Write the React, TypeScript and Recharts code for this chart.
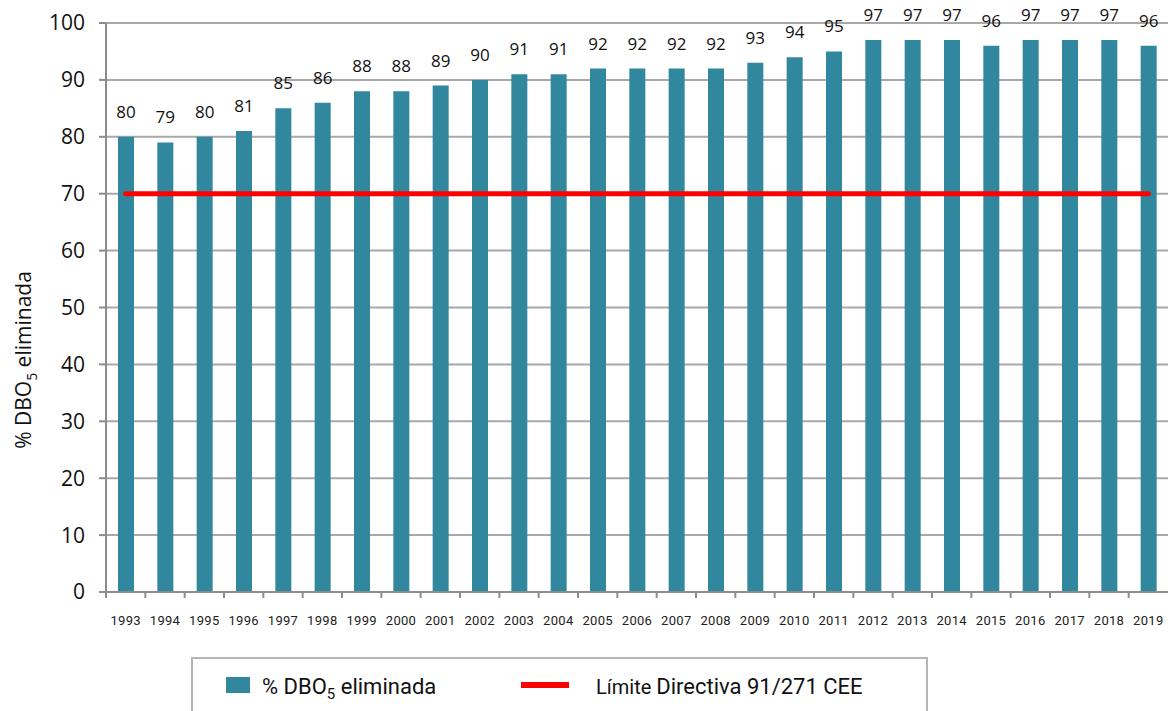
import React from 'react';
import { ComposedChart, Bar, XAxis, YAxis, CartesianGrid, ReferenceLine, LabelList, Legend } from 'recharts';

const years = ['1993','1994','1995','1996','1997','1998','1999','2000','2001','2002','2003','2004','2005','2006','2007','2008','2009','2010','2011','2012','2013','2014','2015','2016','2017','2018','2019'];
const dboValues = [80,79,80,81,85,86,88,88,89,90,91,91,92,92,92,92,93,94,95,97,97,97,96,97,97,97,96];
const limitValue = 70;
const yTicks = [0,10,20,30,40,50,60,70,80,90,100];

const data = years.map((y, i) => ({ year: y, dbo: dboValues[i] }));

const W = 1168;
const H = 711;
const LEFT = 106;
const HALF_BAND = (W - LEFT) / years.length / 2;

const BAR_COLOR = '#31879e';
const GRID = '#a8a8a8';
const AXIS = '#8c8c8c';

const XTick = (props: any) => {
  const { x, y, payload } = props;
  return (
    <g>
      <line x1={x - HALF_BAND} x2={x - HALF_BAND} y1={y} y2={y + 6} stroke={AXIS} strokeWidth={2} />
      <text x={x} y={y + 33} textAnchor="middle" fontFamily="Roboto" fontSize={13} letterSpacing={0.3} fill="#222">{payload.value}</text>
    </g>
  );
};

const YLabel = () => (
  <text transform="translate(31,360) rotate(-90)" textAnchor="middle" fontFamily="Open Sans" fontSize={21} fill="#111">
    <tspan>% DBO</tspan>
    <tspan fontSize={14} dy={6}>5</tspan>
    <tspan dy={-6}> eliminada</tspan>
  </text>
);

const LW = 737;
const LH = 55;
const LegendContent = () => (
  <svg width={LW} height={LH} style={{ display: 'block' }}>
    <path d={`M1,${LH} V1 H${LW - 1} V${LH}`} fill="none" stroke="#b5b5b5" strokeWidth={2} />
    <rect x={35} y={20} width={24} height={16} fill={BAR_COLOR} />
    <text x={71} y={37} fontFamily="Roboto" fontSize={22} fill="#111">
      <tspan>% DBO</tspan>
      <tspan fontSize={15} dy={5}>5</tspan>
      <tspan dy={-5}> eliminada</tspan>
    </text>
    <rect x={330} y={25} width={48} height={6} fill="#ff0000" />
    <text x={405} y={37} fontFamily="Roboto" fill="#111">
      <tspan fontSize={20}>Límite </tspan>
      <tspan fontSize={22}>Directiva 91/271 CEE</tspan>
    </text>
  </svg>
);

export default function App() {
  return (
    <div style={{ position: 'absolute', left: 0, top: 0, width: W, height: H, background: '#fff' }}>
      <ComposedChart width={W} height={H} data={data} margin={{ top: 23, right: 0, left: 0, bottom: 0 }}>
        <CartesianGrid vertical={false} stroke={GRID} strokeWidth={2} />
        <XAxis dataKey="year" height={119} tickLine={false} tickSize={0} tickMargin={0} axisLine={{ stroke: AXIS, strokeWidth: 2 }} tick={<XTick />} interval={0} />
        <YAxis width={LEFT} domain={[0, 100]} ticks={yTicks} interval={0} tickSize={7} tickMargin={14}
          tickLine={{ stroke: AXIS, strokeWidth: 2 }} axisLine={{ stroke: AXIS, strokeWidth: 2 }}
          tick={{ fontFamily: 'Open Sans', fontSize: 21, fill: '#111' }} label={<YLabel />} />
        <Bar dataKey="dbo" fill={BAR_COLOR} barSize={16} isAnimationActive={false}>
          <LabelList dataKey="dbo" position="top" offset={19} style={{ fontFamily: 'Open Sans', fontSize: 17, fill: '#111' }} />
        </Bar>
        <ReferenceLine segment={[{ x: years[0], y: limitValue }, { x: years[years.length - 1], y: limitValue }]} stroke="#ff0000" strokeWidth={5} strokeLinecap="round" />
        <Legend verticalAlign="middle" align="center" content={<LegendContent />} wrapperStyle={{ position: 'absolute', left: 191, top: 657, width: LW, height: LH }} />
      </ComposedChart>
    </div>
  );
}
